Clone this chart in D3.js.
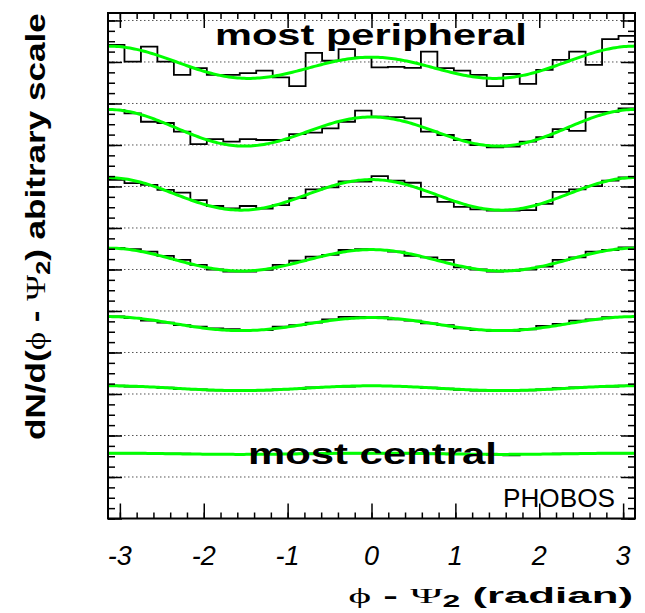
<!DOCTYPE html>
<html>
<head>
<meta charset="utf-8">
<script src="https://cdn.jsdelivr.net/npm/d3@7"></script>
<style>
  body { margin: 0; background: #fff; }
  svg { display: block; font-family: "Liberation Sans", Arial, sans-serif; }
</style>
</head>
<body>
<div id="chart"></div>
<script>
const width = 645;
const height = 613;

// x tick labels (radian)
const xTicks = [-3, -2, -1, 0, 1, 2, 3];
const rowLabels = ["most peripheral", "most central"];

// 32 bins over [-pi, pi], one histogram per centrality class (peripheral -> central), arbitrary scale
const histPeripheral1 = [1141, 1101, 1137, 1101, 1069, 1085, 1069, 1069, 1073, 1079, 1063, 1042, 1122, 1103, 1131, 1111,
                         1087, 1088, 1086, 1125, 1085, 1079, 1069, 1042, 1071, 1047, 1081, 1105, 1125, 1093, 1155, 1163];
const histClass2 = [984, 976, 956, 953, 932, 902, 914, 908, 914, 912, 912, 926, 930, 940, 956, 983,
                    968, 967, 964, 932, 924, 912, 900, 894, 896, 908, 919, 938, 934, 980, 980, 988];
const histClass3 = [816, 808, 804, 792, 785, 767, 753, 747, 753, 747, 755, 772, 793, 798, 812, 812,
                    825, 814, 809, 775, 763, 751, 745, 742, 742, 743, 758, 787, 793, 801, 814, 822];
const histClass4 = [652, 649, 643, 633, 623, 611, 600, 595, 595, 599, 611, 621, 631, 635, 647, 649,
                    647, 643, 633, 629, 623, 605, 600, 595, 597, 600, 607, 623, 629, 643, 647, 653];
const histClass5 = [487, 483, 477, 472, 466, 462, 458, 456, 454, 454, 462, 466, 472, 480, 486, 486,
                    485, 480, 477, 470, 466, 458, 454, 452, 452, 456, 464, 469, 477, 480, 485, 486];
const histClass6 = [320, 318, 317, 315, 312, 311, 309, 308, 308, 309, 311, 312, 316, 317, 318, 319,
                    319, 319, 317, 315, 313, 310, 308, 308, 308, 309, 311, 314, 316, 317, 318, 320];
const histCentral7 = [157, 157, 157, 156, 156, 155, 155, 155, 155, 155, 155, 156, 156, 157, 157, 157,
                      157, 157, 157, 156, 156, 155, 155, 154, 152, 155, 155, 156, 156, 157, 157, 157];
const histograms = [histPeripheral1, histClass2, histClass3, histClass4, histClass5, histClass6, histCentral7];

// Fourier fit: mean + c1*cos(phi) + c2*cos(2 phi)
const fitMean = [1093, 937, 781, 623, 469, 314, 156];
const fitC1 = [-13.3, -9.0, -2.4, -1.8, -1.2, 0, 0];
const fitC2 = [31.9, 39.5, 38.0, 26.7, 16.3, 5.7, 1.5];

const svg = d3.select("#chart").append("svg")
    .attr("width", width)
    .attr("height", height);

const x = d3.scaleLinear().domain([-Math.PI, Math.PI]).range([108, 635]);
const y = d3.scaleLinear().domain([0, 1218]).range([518.5, 13]);

const x0 = x.range()[0], x1 = x.range()[1];
const yTop = y.range()[1], yBot = y.range()[0];

// dotted grid lines at the major y ticks
svg.append("g")
    .selectAll("line")
    .data(d3.range(100, 1201, 100))
    .join("line")
    .attr("x1", x0).attr("x2", x1)
    .attr("y1", d => y(d)).attr("y2", d => y(d))
    .attr("stroke", "#555")
    .attr("stroke-width", 1)
    .attr("stroke-dasharray", "1.5,2.5");

// histograms as step outlines
const nBins = 32;
const edges = d3.range(nBins + 1).map(i => -Math.PI + i * 2 * Math.PI / nBins);
const stepLine = d3.line()
    .x(d => x(d[0]))
    .y(d => y(d[1]))
    .curve(d3.curveStepAfter);

svg.append("g")
    .selectAll("path")
    .data(histograms)
    .join("path")
    .attr("d", h => stepLine(edges.map((e, i) => [e, h[Math.min(i, nBins - 1)]])))
    .attr("fill", "none")
    .attr("stroke", "#000")
    .attr("stroke-width", 1.8);

// fit curves
const phis = d3.range(0, 241).map(i => -Math.PI + i * 2 * Math.PI / 240);
const fitLine = d3.line().x(d => x(d[0])).y(d => y(d[1]));

svg.append("g")
    .selectAll("path")
    .data(fitMean.map((m, i) => ({ m: m, c1: fitC1[i], c2: fitC2[i] })))
    .join("path")
    .attr("d", f => fitLine(phis.map(p => [p, f.m + f.c1 * Math.cos(p) + f.c2 * Math.cos(2 * p)])))
    .attr("fill", "none")
    .attr("stroke", "#00ff00")
    .attr("stroke-width", 3);

// ticks on all four sides, pointing inward
const xMinor = d3.range(-15, 16).map(i => i * 0.2);
const yMajor = d3.range(0, 1201, 100);
const yMinor = d3.range(0, 1218, 25);

function ticks(axis, tx, ty) {
    const g = svg.append("g")
        .attr("transform", `translate(${tx},${ty})`)
        .call(axis.tickFormat(""));
    g.select(".domain").remove();
    g.selectAll("line").attr("stroke", "#000").attr("stroke-width", 1.5);
}

ticks(d3.axisBottom(x).tickValues(xTicks).tickSize(-15), 0, yBot);
ticks(d3.axisBottom(x).tickValues(xMinor).tickSize(-6), 0, yBot);
ticks(d3.axisTop(x).tickValues(xTicks).tickSize(-15), 0, yTop);
ticks(d3.axisTop(x).tickValues(xMinor).tickSize(-6), 0, yTop);
ticks(d3.axisLeft(y).tickValues(yMajor).tickSize(-14), x0, 0);
ticks(d3.axisLeft(y).tickValues(yMinor).tickSize(-7), x0, 0);
ticks(d3.axisRight(y).tickValues(yMajor).tickSize(-14), x1, 0);
ticks(d3.axisRight(y).tickValues(yMinor).tickSize(-7), x1, 0);

// frame
svg.append("rect")
    .attr("x", x0).attr("y", yTop)
    .attr("width", x1 - x0).attr("height", yBot - yTop)
    .attr("fill", "none")
    .attr("stroke", "#000")
    .attr("stroke-width", 2);

// x tick labels
svg.append("g")
    .selectAll("text")
    .data(xTicks)
    .join("text")
    .attr("x", d => x(d))
    .attr("y", 565)
    .attr("text-anchor", "middle")
    .attr("font-size", 27)
    .attr("font-style", "italic")
    .text(d => d);

// stretch a text horizontally to a measured width
function fitWidth(text, w) {
    const bw = text.node().getBBox().width;
    text.attr("transform", `scale(${w / bw},1)`);
}

function label(str, tx, ty, size, weight, w) {
    const g = svg.append("g").attr("transform", `translate(${tx},${ty})`);
    const t = g.append("text")
        .attr("font-size", size)
        .attr("font-weight", weight)
        .text(str);
    fitWidth(t, w);
}

label(rowLabels[0], 215, 45, 30, "bold", 312);
label(rowLabels[1], 248, 464, 30, "bold", 249);
label("PHOBOS", 503, 507, 26, "normal", 112);

// x axis title
const gx = svg.append("g").attr("transform", "translate(633,603)");
const tx = gx.append("text")
    .attr("text-anchor", "end")
    .attr("font-size", 22)
    .attr("font-weight", "bold");
tx.append("tspan").attr("font-family", "Liberation Serif").attr("font-weight", "normal").text("\u03d5");
tx.append("tspan").text(" - ");
tx.append("tspan").attr("font-family", "Liberation Serif").attr("font-weight", "normal").text("\u03a8");
tx.append("tspan").attr("font-size", 16).attr("dy", 4).text("2");
tx.append("tspan").attr("dy", -4).text(" (radian)");
fitWidth(tx, 285);

// y axis title
const gy = svg.append("g").attr("transform", "translate(45,440) rotate(-90)");
const ty = gy.append("text")
    .attr("font-size", 28)
    .attr("font-weight", "bold");
ty.append("tspan").text("dN/d(");
ty.append("tspan").attr("font-family", "Liberation Serif").attr("font-weight", "normal").text("\u03d5");
ty.append("tspan").text(" - ");
ty.append("tspan").attr("font-family", "Liberation Serif").attr("font-weight", "normal").text("\u03a8");
ty.append("tspan").attr("font-size", 20).attr("dy", 5).text("2");
ty.append("tspan").attr("dy", -5).text(") abitrary scale");
fitWidth(ty, 427);
</script>
</body>
</html>
